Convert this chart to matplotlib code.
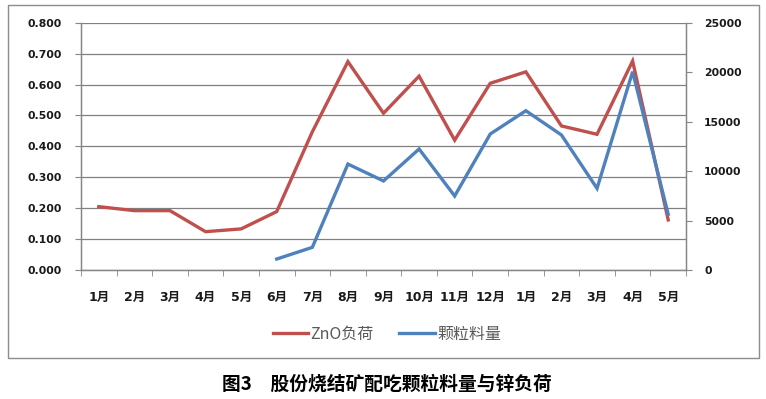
import numpy as np
import matplotlib
matplotlib.use("Agg")
import matplotlib.pyplot as plt
from matplotlib.lines import Line2D
from matplotlib.patches import Rectangle

plt.rcParams['font.family'] = ['DejaVu Sans', 'Noto Sans CJK SC']

months = ["1月", "2月", "3月", "4月", "5月", "6月", "7月", "8月", "9月",
          "10月", "11月", "12月", "1月", "2月", "3月", "4月", "5月"]
zno_load = [0.205, 0.192, 0.192, 0.124, 0.133, 0.189, 0.447, 0.674, 0.507,
            0.627, 0.420, 0.604, 0.641, 0.466, 0.439, 0.676, 0.162]
pellet_amount = [np.nan, np.nan, np.nan, np.nan, np.nan, 1110, 2290, 10710, 9000,
                 12230, 7480, 13750, 16100, 13650, 8250, 20050, 5630]
left_ticks = [0.0, 0.1, 0.2, 0.3, 0.4, 0.5, 0.6, 0.7, 0.8]
right_ticks = [0, 5000, 10000, 15000, 20000, 25000]

W, H = 766, 399
fig = plt.figure(figsize=(W / 100, H / 100), dpi=100)

# outer chart frame
fig.patches.append(Rectangle((8 / W, 1 - 358 / H), (759 - 8) / W, (358 - 5) / H,
                             transform=fig.transFigure, fill=False,
                             edgecolor='#8c8c8c', linewidth=1.0))

ax = fig.add_axes([81 / W, 1 - 270 / H, (686 - 81) / W, (270 - 22.7) / H])
ax2 = ax.twinx()

x = np.arange(len(months))
red = '#C0504D'
blue = '#4F81BD'
gray = '#868686'

ax.plot(x, zno_load, color=red, linewidth=2.4, solid_joinstyle='miter', zorder=3)
ax2.plot(x, pellet_amount, color=blue, linewidth=2.4, solid_joinstyle='miter', zorder=3)

ax.set_xlim(-0.5, len(months) - 0.5)
ax.set_ylim(0, 0.8)
ax2.set_ylim(0, 25000)

ax.set_yticks(left_ticks)
ax.set_yticklabels([f"{v:.3f}" for v in left_ticks])
ax2.set_yticks(right_ticks)
ax2.set_yticklabels([str(v) for v in right_ticks])

ax.set_xticks(x)
ax.set_xticklabels(months)
ax.set_xticks(np.arange(-0.5, len(months), 1.0), minor=True)
ax.tick_params(axis='x', which='major', length=0, pad=15)
ax.tick_params(axis='x', which='minor', length=4, color=gray, direction='out')

ax.grid(axis='y', color='#808080', linewidth=0.9)
ax.set_axisbelow(True)

for a in (ax, ax2):
    a.spines['top'].set_visible(False)
    for s in ('left', 'right', 'bottom'):
        a.spines[s].set_color(gray)
        a.spines[s].set_linewidth(0.9)

ax.tick_params(axis='y', length=4, color=gray, pad=10)
ax2.tick_params(axis='y', length=4, color=gray, pad=9)
for lab in ax.get_yticklabels() + ax2.get_yticklabels():
    lab.set_fontsize(7.8)
    lab.set_fontweight('bold')
    lab.set_color('#1a1a1a')
for lab in ax.get_xticklabels():
    lab.set_fontsize(9)
    lab.set_fontweight('bold')
    lab.set_color('#1a1a1a')

handles = [Line2D([], [], color=red, linewidth=2.4),
           Line2D([], [], color=blue, linewidth=2.4)]
fig.legend(handles, ["ZnO负荷", "颗粒料量"], loc='center',
           bbox_to_anchor=(387 / W, 1 - 334 / H), ncol=2, frameon=False,
           prop={'family': ['Noto Sans CJK SC'], 'size': 11.5},
           labelcolor='#595959', handlelength=2.2, handletextpad=0.15,
           columnspacing=1.6)

fig.text(387 / W, 1 - 384 / H, "图3　股份烧结矿配吃颗粒料量与锌负荷",
         ha='center', va='center', fontsize=13.5, fontweight='bold',
         family=['Noto Sans CJK SC'], color='black')

fig.savefig("out.png", dpi=100)
